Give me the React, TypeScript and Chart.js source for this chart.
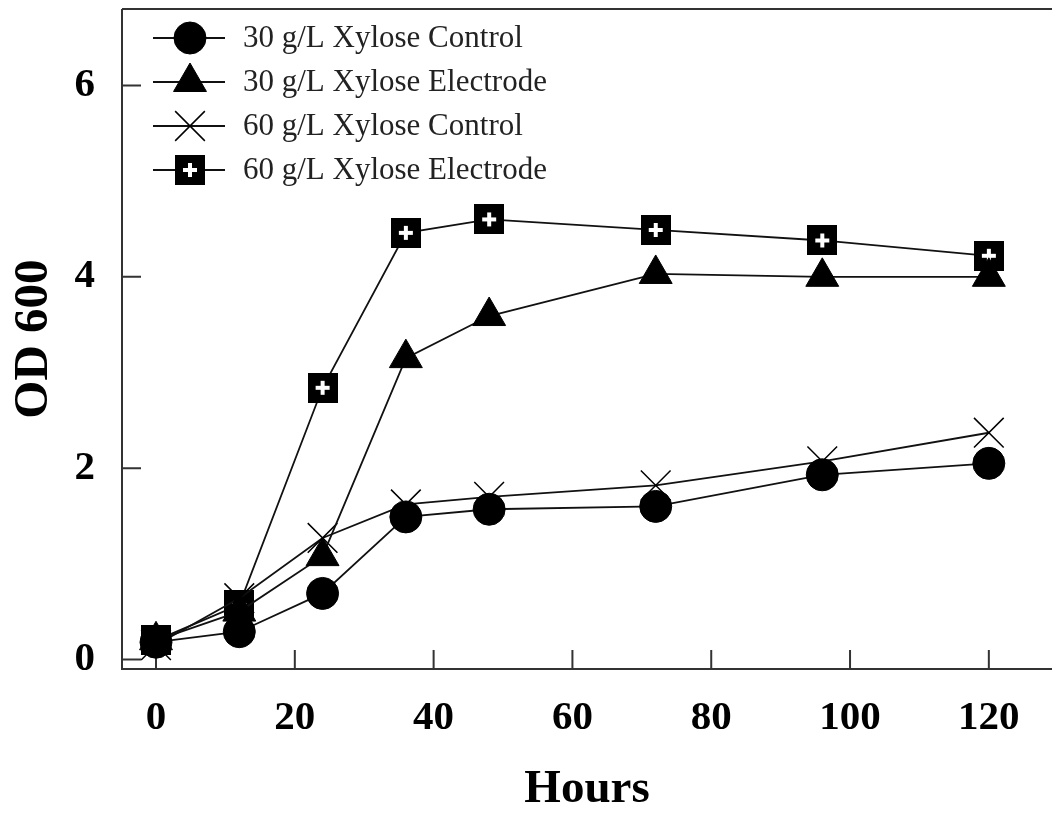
import React, { useEffect, useRef } from 'react';
import { Chart, registerables } from 'chart.js';
import { drawPoint } from 'chart.js/helpers';

Chart.register(...registerables);

const hours = [0, 12, 24, 36, 48, 72, 96, 120];
const control30 = [0.18, 0.29, 0.69, 1.49, 1.57, 1.6, 1.93, 2.05];
const electrode30 = [0.2, 0.5, 1.08, 3.15, 3.59, 4.03, 4.0, 4.0];
const control60 = [0.15, 0.64, 1.27, 1.62, 1.7, 1.82, 2.07, 2.37];
const electrode60 = [0.2, 0.57, 2.84, 4.46, 4.6, 4.49, 4.38, 4.22];
const seriesLabels = [
  '30 g/L Xylose Control',
  '30 g/L Xylose Electrode',
  '60 g/L Xylose Control',
  '60 g/L Xylose Electrode',
];
const xTicks = [0, 20, 40, 60, 80, 100, 120];
const yTicks = [0, 2, 4, 6];
const xTitle = 'Hours';
const yTitle = 'OD 600';

const SERIF = '"Liberation Serif", "Times New Roman", serif';

function makeSquarePlus(): HTMLCanvasElement {
  const c = document.createElement('canvas');
  c.width = 30;
  c.height = 30;
  const g = c.getContext('2d')!;
  g.fillStyle = '#000';
  g.fillRect(0, 0, 30, 30);
  g.fillStyle = '#fff';
  g.fillRect(13, 8, 4, 14);
  g.fillRect(8, 13, 14, 4);
  return c;
}

const framePlugin = {
  id: 'frame',
  beforeDatasetsDraw(chart: any) {
    const { ctx, chartArea } = chart;
    const { left, right, top, bottom } = chartArea;
    const xs = chart.scales.x;
    const ys = chart.scales.y;
    ctx.save();
    ctx.strokeStyle = '#333';
    ctx.lineWidth = 2;
    ctx.beginPath();
    ctx.moveTo(left, top);
    ctx.lineTo(right, top);
    ctx.moveTo(left, top);
    ctx.lineTo(left, bottom);
    ctx.lineTo(right, bottom);
    const tl = 19;
    for (const v of xTicks) {
      const px = xs.getPixelForValue(v);
      ctx.moveTo(px, bottom);
      ctx.lineTo(px, bottom - tl);
    }
    for (const v of yTicks) {
      const py = ys.getPixelForValue(v);
      ctx.moveTo(left, py);
      ctx.lineTo(left + tl, py);
    }
    ctx.stroke();
    ctx.restore();
  },
};

const legendPlugin = {
  id: 'innerLegend',
  afterDatasetsDraw(chart: any) {
    const { ctx, chartArea } = chart;
    ctx.save();
    chart.data.datasets.forEach((ds: any, i: number) => {
      const y = chartArea.top + 29 + i * 44;
      const x0 = chartArea.left + 31;
      const x1 = chartArea.left + 103;
      const mx = chartArea.left + 68;
      ctx.strokeStyle = '#111';
      ctx.lineWidth = 1.8;
      ctx.beginPath();
      ctx.moveTo(x0, y);
      ctx.lineTo(x1, y);
      ctx.stroke();
      ctx.fillStyle = '#000';
      ctx.strokeStyle = '#000';
      ctx.lineWidth = ds.pointBorderWidth;
      drawPoint(
        ctx,
        { pointStyle: ds.pointStyle, rotation: 0, radius: ds.pointRadius, borderWidth: ds.pointBorderWidth },
        mx,
        y
      );
      ctx.fillStyle = '#222';
      ctx.font = `31px ${SERIF}`;
      ctx.textBaseline = 'middle';
      ctx.textAlign = 'left';
      ctx.fillText(ds.label, chartArea.left + 121, y + 1);
    });
    ctx.restore();
  },
};

function zeroPadding(s: any) {
  s.paddingTop = 0;
  s.paddingBottom = 0;
  s.paddingLeft = 0;
  s.paddingRight = 0;
}

export default function App() {
  const ref = useRef<HTMLCanvasElement>(null);

  useEffect(() => {
    if (!ref.current) return;
    const sq = makeSquarePlus();
    const mk = (vals: number[]) => hours.map((h, i) => ({ x: h, y: vals[i] }));
    const base = {
      showLine: true,
      borderColor: '#111',
      borderWidth: 1.8,
      pointBackgroundColor: '#000',
      pointBorderColor: '#000',
      clip: false as any,
    };
    const chart = new Chart(ref.current, {
      type: 'line',
      data: {
        datasets: [
          { ...base, label: seriesLabels[0], data: mk(control30), pointStyle: 'circle', pointRadius: 16, pointBorderWidth: 1 },
          { ...base, label: seriesLabels[1], data: mk(electrode30), pointStyle: 'triangle', pointRadius: 19, pointBorderWidth: 1 },
          { ...base, label: seriesLabels[2], data: mk(control60), pointStyle: 'crossRot', pointRadius: 21, pointBorderWidth: 1.5 },
          { ...base, label: seriesLabels[3], data: mk(electrode60), pointStyle: sq as any, pointRadius: 15, pointBorderWidth: 1 },
        ] as any,
      },
      options: {
        animation: false,
        responsive: false,
        events: [],
        layout: { autoPadding: false, padding: { top: 9, left: 0, right: 0, bottom: 0 } },
        plugins: { legend: { display: false }, tooltip: { enabled: false } },
        scales: {
          x: {
            type: 'linear',
            min: -4.9,
            max: 129.1,
            grid: { display: false },
            border: { display: false },
            afterBuildTicks: (s: any) => {
              s.ticks = xTicks.map((v) => ({ value: v }));
            },
            afterFit: (s: any) => {
              s.height = 145;
              zeroPadding(s);
            },
            ticks: {
              color: '#000',
              padding: 17,
              maxRotation: 0,
              autoSkip: false,
              font: { family: SERIF, size: 41, weight: 'bold' },
            },
            title: {
              display: true,
              text: xTitle,
              color: '#000',
              font: { family: SERIF, size: 47, weight: 'bold', lineHeight: 1 },
              padding: { top: 0, bottom: 1 },
            },
          },
          y: {
            type: 'linear',
            min: -0.1,
            max: 6.8,
            grid: { display: false },
            border: { display: false },
            afterBuildTicks: (s: any) => {
              s.ticks = yTicks.map((v) => ({ value: v }));
            },
            afterFit: (s: any) => {
              s.width = 122;
              zeroPadding(s);
            },
            ticks: {
              color: '#000',
              padding: 19,
              font: { family: SERIF, size: 41, weight: 'bold' },
            },
            title: {
              display: true,
              text: yTitle,
              color: '#000',
              font: { family: SERIF, size: 49, weight: 'bold', lineHeight: 1 },
              padding: { top: 10, bottom: 0 },
            },
          },
        },
      } as any,
      plugins: [framePlugin, legendPlugin],
    });
    return () => chart.destroy();
  }, []);

  return (
    <div style={{ position: 'absolute', left: 0, top: 0, width: 1052, height: 814, background: '#fff' }}>
      <canvas ref={ref} width={1052} height={814} style={{ display: 'block', width: 1052, height: 814 }} />
    </div>
  );
}
